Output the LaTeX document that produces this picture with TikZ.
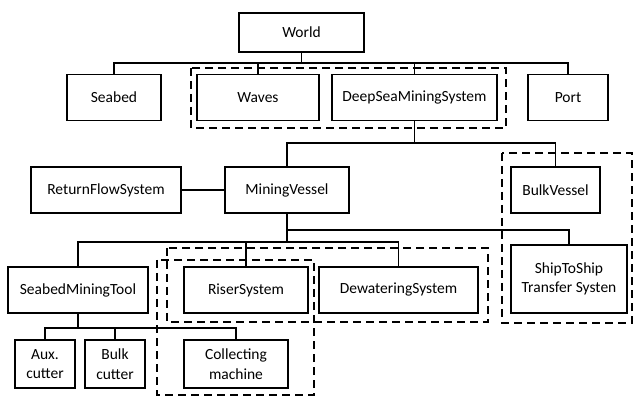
\documentclass[tikz,border=0pt]{standalone}
\usepackage{fontspec}
\setmainfont{Carlito}
\begin{document}
\begin{tikzpicture}[
        x=1pt, y=-1pt,
        box/.style = {draw, line width=1.8pt, inner sep=0pt, minimum height=46pt, align=center,
                      font=\fontsize{15.5}{19.5}\selectfont},
        grp/.style = {line width=2pt, dash pattern=on 8pt off 5pt},
        line width=1.8pt
    ]
        \useasboundingbox (0,0) rectangle (635,398);
        % top level
        \node[box, minimum width=125pt, minimum height=39pt] (world) at (301.5,32.5) {World};
        \node[box, minimum width=94pt]  (seabed) at (114,97.5)   {Seabed};
        \node[box, minimum width=122pt] (waves)  at (258,97.5)   {Waves};
        \node[box, minimum width=165pt] (dsms)   at (414.5,97.5) {DeepSeaMiningSystem};
        \node[box, minimum width=80pt]  (port)   at (568,97.5)   {Port};
        % vessels
        \node[box, minimum width=150pt] (rfs) at (106,190)   {ReturnFlowSystem};
        \node[box, minimum width=124pt] (mv)  at (287,190)   {MiningVessel};
        \node[box, minimum width=89pt]  (bv)  at (555.5,190) {BulkVessel};
        % subsystems
        \node[box, minimum width=140pt] (smt)   at (78,290)    {SeabedMiningTool};
        \node[box, minimum width=124pt] (riser) at (246,290)   {RiserSystem};
        \node[box, minimum width=159pt] (dewat) at (398.5,290) {DewateringSystem};
        \node[box, minimum width=116pt, minimum height=68pt] (sts) at (569,279) {ShipToShip\\Transfer Systen};
        % tool parts
        \node[box, minimum width=60pt, minimum height=48pt]  (aux)  at (45,364)  {Aux.\\cutter};
        \node[box, minimum width=60pt, minimum height=48pt]  (bulk) at (115,364) {Bulk\\cutter};
        \node[box, minimum width=104pt, minimum height=48pt] (coll) at (236,364) {Collecting\\machine};

        \draw (world.south) -- ++(0,10) coordinate (wbus);
        \draw (seabed.north) |- (wbus) -| (port.north);
        \draw (waves.north) -- (waves.north |- wbus);
        \draw (dsms.north) -- (dsms.north |- wbus);

        \draw (dsms.south) -- ++(0,22) coordinate (dbus);
        \draw (mv.north) |- (dbus) -| (bv.north);
        \draw (rfs.east) -- (mv.west);

        \draw (mv.south) -- ++(0,16) coordinate (sbus) -| (sts.north);
        \draw (sbus) -- ++(0,12) coordinate (mbus);
        \draw (smt.north) |- (mbus) -| (dewat.north);
        \draw (riser.north) -- (riser.north |- mbus);

        \draw (smt.south) -- ++(0,14) coordinate (tbus);
        \draw (aux.north) |- (tbus) -| (coll.north);
        \draw (bulk.north) -- (bulk.north |- tbus);

        % groups
        \draw[grp] (191,68) rectangle (506,128);
        \draw[grp] (502,153) rectangle (632,323);
        \draw[grp] (167,248) rectangle (488,322);
        \draw[grp] (157,260) rectangle (314,395);
    \end{tikzpicture}
\end{document}
